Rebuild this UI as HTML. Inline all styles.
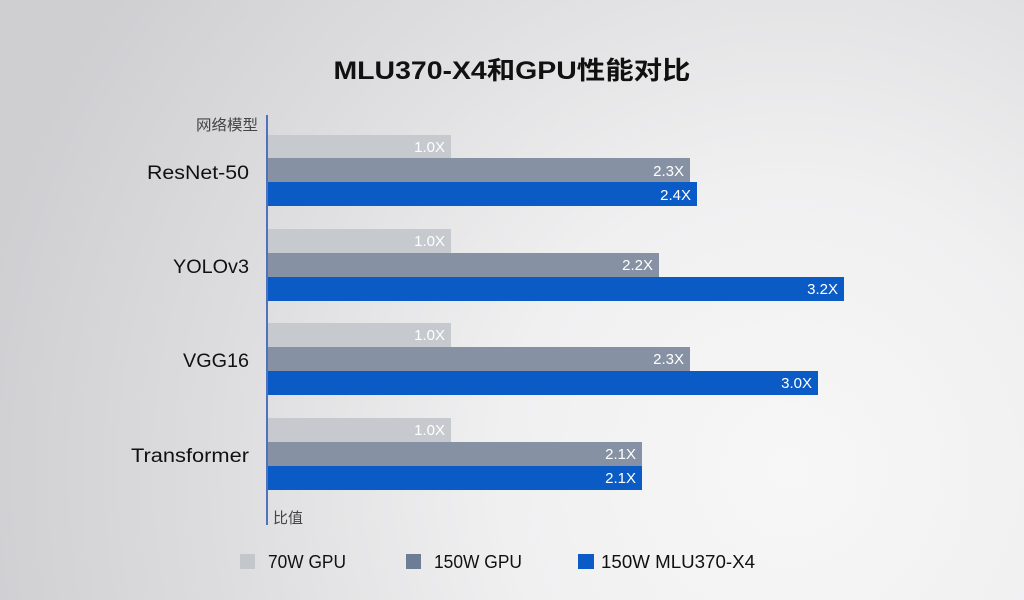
<!DOCTYPE html>
<html>
<head>
<meta charset="utf-8">
<style>
html,body{margin:0;padding:0;width:1024px;height:600px;overflow:hidden;}
svg{display:block;}
text{font-family:"Liberation Sans","Noto Sans CJK SC",sans-serif;}
</style>
</head>
<body>
<svg width="1024" height="600" viewBox="0 0 1024 600" xmlns="http://www.w3.org/2000/svg">
<defs>
<radialGradient id="bg" cx="790" cy="470" r="820" gradientUnits="userSpaceOnUse">
<stop offset="0" stop-color="#f7f7f7"/>
<stop offset="0.35" stop-color="#f0f0f1"/>
<stop offset="0.7" stop-color="#dddddf"/>
<stop offset="1" stop-color="#cfcfd2"/>
</radialGradient>
</defs>
<rect x="0" y="0" width="1024" height="600" fill="url(#bg)"/>

<!-- title -->
<text x="512" y="79" text-anchor="middle" font-size="25" font-weight="bold" fill="#111" textLength="357" lengthAdjust="spacingAndGlyphs" font-family="'Liberation Sans','Noto Sans CJK SC',sans-serif">MLU370-X4和GPU性能对比</text>

<!-- axis -->
<rect x="266" y="115" width="2" height="410" fill="#4f72bd"/>
<text x="258" y="130" text-anchor="end" font-size="15" fill="#444" textLength="62" lengthAdjust="spacingAndGlyphs">网络模型</text>
<text x="273" y="523" font-size="15" fill="#444" textLength="30" lengthAdjust="spacingAndGlyphs">比值</text>

<!-- category labels -->
<g font-size="19" fill="#111" text-anchor="end">
<text x="249" y="179" textLength="102" lengthAdjust="spacingAndGlyphs">ResNet-50</text>
<text x="249" y="273" textLength="76" lengthAdjust="spacingAndGlyphs">YOLOv3</text>
<text x="249" y="367" textLength="66" lengthAdjust="spacingAndGlyphs">VGG16</text>
<text x="249" y="462" textLength="118" lengthAdjust="spacingAndGlyphs">Transformer</text>
</g>

<!-- bars -->
<g>
<!-- ResNet-50 -->
<rect x="268" y="135" width="183" height="23" fill="#c6c9ce"/>
<rect x="268" y="158" width="422" height="24" fill="#8692a4"/>
<rect x="268" y="182" width="429" height="24" fill="#0a5bc6"/>
<!-- YOLOv3 -->
<rect x="268" y="229" width="183" height="24" fill="#c6c9ce"/>
<rect x="268" y="253" width="391" height="24" fill="#8692a4"/>
<rect x="268" y="277" width="576" height="24" fill="#0a5bc6"/>
<!-- VGG16 -->
<rect x="268" y="323" width="183" height="24" fill="#c6c9ce"/>
<rect x="268" y="347" width="422" height="24" fill="#8692a4"/>
<rect x="268" y="371" width="550" height="24" fill="#0a5bc6"/>
<!-- Transformer -->
<rect x="268" y="418" width="183" height="24" fill="#c6c9ce"/>
<rect x="268" y="442" width="374" height="24" fill="#8692a4"/>
<rect x="268" y="466" width="374" height="24" fill="#0a5bc6"/>
</g>

<!-- value labels -->
<g font-size="15" fill="#ffffff" text-anchor="end">
<text x="445" y="152">1.0X</text>
<text x="684" y="176">2.3X</text>
<text x="691" y="200">2.4X</text>
<text x="445" y="246">1.0X</text>
<text x="653" y="270">2.2X</text>
<text x="838" y="294">3.2X</text>
<text x="445" y="340">1.0X</text>
<text x="684" y="364">2.3X</text>
<text x="812" y="388">3.0X</text>
<text x="445" y="435">1.0X</text>
<text x="636" y="459">2.1X</text>
<text x="636" y="483">2.1X</text>
</g>

<!-- legend -->
<rect x="240" y="554" width="15" height="15" fill="#c3c6cb"/>
<text x="268" y="568" font-size="18" fill="#111" textLength="78" lengthAdjust="spacingAndGlyphs">70W GPU</text>
<rect x="406" y="554" width="15" height="15" fill="#6d7d95"/>
<text x="434" y="568" font-size="18" fill="#111" textLength="88" lengthAdjust="spacingAndGlyphs">150W GPU</text>
<rect x="578" y="554" width="16" height="15" fill="#0a5bc6"/>
<text x="601" y="568" font-size="18" fill="#111" textLength="154" lengthAdjust="spacingAndGlyphs">150W MLU370-X4</text>
</svg>
</body>
</html>
